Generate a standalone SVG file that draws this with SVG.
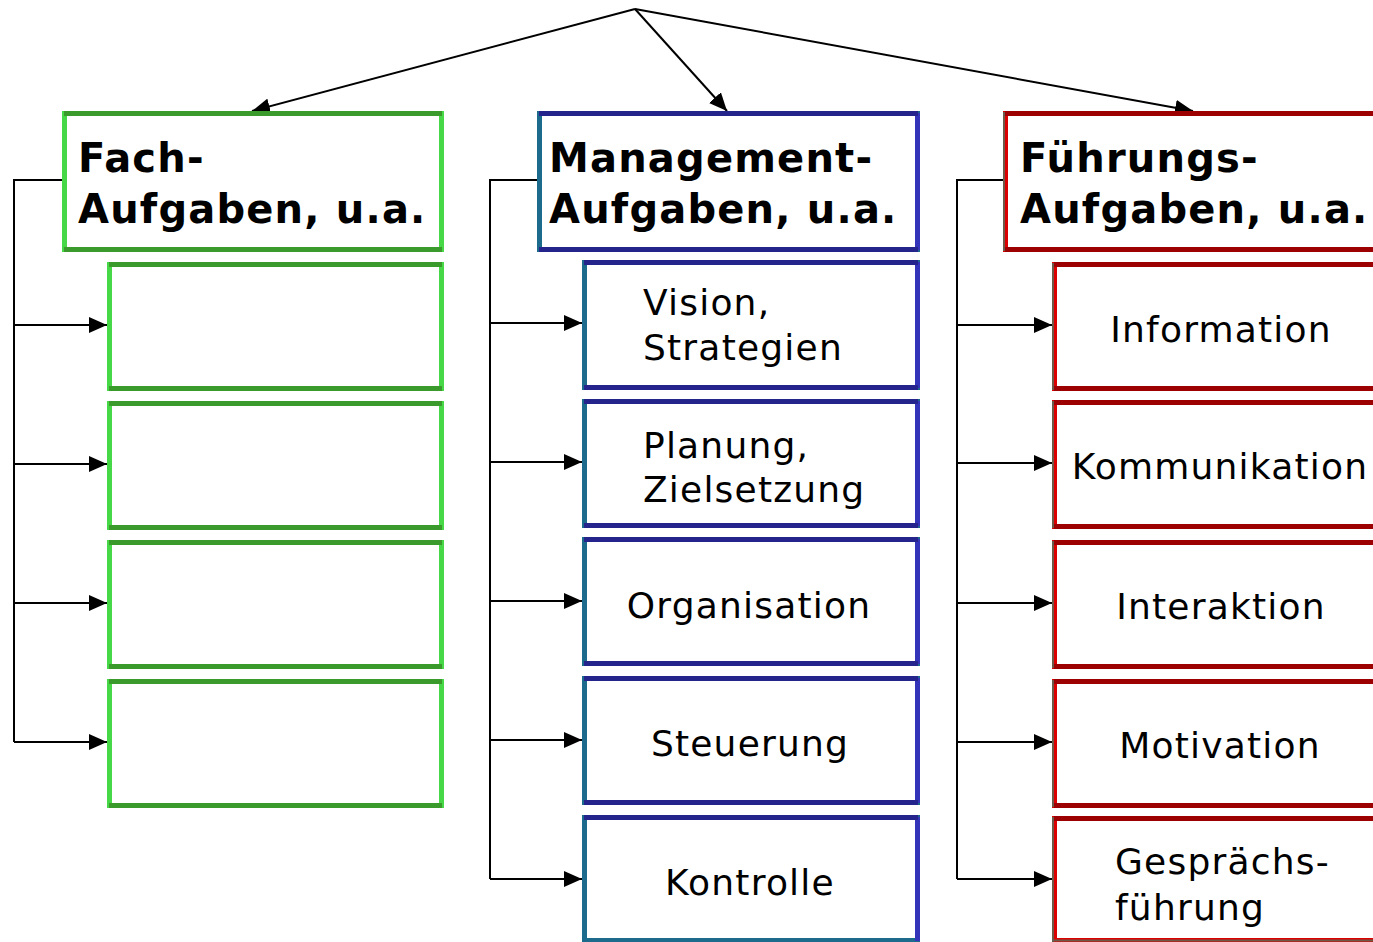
<svg xmlns="http://www.w3.org/2000/svg" width="1373" height="942" viewBox="0 0 1373 942">
<defs>
<style>
.gs{fill:#fff;stroke:#46d846;stroke-width:5}
.gt{stroke:#3a9a2c;stroke-width:5}
.bs{fill:#fff;stroke:#1c6a8c;stroke-width:5}
.br{stroke:#3434ba;stroke-width:5}
.bt{stroke:#24248c;stroke-width:5}
.rs{fill:#fff;stroke:#dd0000;stroke-width:5}
.rl{stroke:#6e5a48;stroke-width:2}
.rt{stroke:#9c0000;stroke-width:5}
.h{font-family:"DejaVu Sans",Verdana,sans-serif;font-weight:bold;font-size:40px;letter-spacing:1.2px;fill:#000}
.t{font-family:"DejaVu Sans",Verdana,sans-serif;font-size:36px;letter-spacing:1.2px;fill:#000}
.c{text-anchor:middle}
.con{fill:none;stroke:#000;stroke-width:2}
</style>
<marker id="ah2" viewBox="0 0 10 10" refX="10" refY="5" markerWidth="18" markerHeight="16" markerUnits="userSpaceOnUse" orient="auto" preserveAspectRatio="none">
<path d="M0,0 L10,5 L0,10 Z" fill="#000"/>
</marker>
</defs>
<rect width="1373" height="942" fill="#fff"/>

<g id="connectors">
<path class="con" marker-end="url(#ah2)" d="M635,9 L252,111"/>
<path class="con" marker-end="url(#ah2)" d="M635,9 L727,111"/>
<path class="con" marker-end="url(#ah2)" d="M635,9 L1193,111"/>
<path class="con" d="M62,180 H14 V742"/>
<path class="con" marker-end="url(#ah2)" d="M14,325 H107"/>
<path class="con" marker-end="url(#ah2)" d="M14,464 H107"/>
<path class="con" marker-end="url(#ah2)" d="M14,603 H107"/>
<path class="con" marker-end="url(#ah2)" d="M14,742 H107"/>
<path class="con" d="M537,180 H490 V879"/>
<path class="con" marker-end="url(#ah2)" d="M490,323 H582"/>
<path class="con" marker-end="url(#ah2)" d="M490,462 H582"/>
<path class="con" marker-end="url(#ah2)" d="M490,601 H582"/>
<path class="con" marker-end="url(#ah2)" d="M490,740 H582"/>
<path class="con" marker-end="url(#ah2)" d="M490,879 H582"/>
<path class="con" d="M1003,180 H957 V879"/>
<path class="con" marker-end="url(#ah2)" d="M957,325 H1052"/>
<path class="con" marker-end="url(#ah2)" d="M957,463 H1052"/>
<path class="con" marker-end="url(#ah2)" d="M957,603 H1052"/>
<path class="con" marker-end="url(#ah2)" d="M957,742 H1052"/>
<path class="con" marker-end="url(#ah2)" d="M957,879 H1052"/>
</g>

<!-- Fach column -->
<g id="fach">
<rect class="gs" x="64.5" y="113.5" width="377" height="136"/>
<line class="gt" x1="64" y1="113.5" x2="442" y2="113.5"/>
<line class="gt" x1="64" y1="249.5" x2="442" y2="249.5"/>
<text class="h" x="78" y="172">Fach-</text>
<text class="h" x="78" y="223">Aufgaben, u.a.</text>
</g>
<g id="fach1">
<rect class="gs" x="109.5" y="264.5" width="332" height="124"/>
<line class="gt" x1="109" y1="264.5" x2="442" y2="264.5"/>
<line class="gt" x1="109" y1="388.5" x2="442" y2="388.5"/>
</g>
<g id="fach2">
<rect class="gs" x="109.5" y="403.5" width="332" height="124"/>
<line class="gt" x1="109" y1="403.5" x2="442" y2="403.5"/>
<line class="gt" x1="109" y1="527.5" x2="442" y2="527.5"/>
</g>
<g id="fach3">
<rect class="gs" x="109.5" y="542.5" width="332" height="124"/>
<line class="gt" x1="109" y1="542.5" x2="442" y2="542.5"/>
<line class="gt" x1="109" y1="666.5" x2="442" y2="666.5"/>
</g>
<g id="fach4">
<rect class="gs" x="109.5" y="681.5" width="332" height="124"/>
<line class="gt" x1="109" y1="681.5" x2="442" y2="681.5"/>
<line class="gt" x1="109" y1="805.5" x2="442" y2="805.5"/>
</g>

<!-- Management column -->
<g id="management">
<rect class="bs" x="539.5" y="113.5" width="378" height="136"/>
<line class="br" x1="917.5" y1="113" x2="917.5" y2="250"/>
<line class="bt" x1="539" y1="113.5" x2="918" y2="113.5"/>
<line class="bt" x1="539" y1="249.5" x2="918" y2="249.5"/>
<text class="h" x="549" y="172">Management-</text>
<text class="h" x="549" y="223">Aufgaben, u.a.</text>
</g>
<g id="vision">
<rect class="bs" x="584.5" y="262.5" width="333" height="125"/>
<line class="br" x1="917.5" y1="262" x2="917.5" y2="388"/>
<line class="bt" x1="584" y1="262.5" x2="918" y2="262.5"/>
<line class="bt" x1="584" y1="387.5" x2="918" y2="387.5"/>
<text class="t" x="643" y="315">Vision,</text>
<text class="t" x="643" y="360">Strategien</text>
</g>
<g id="planung">
<rect class="bs" x="584.5" y="401.5" width="333" height="124"/>
<line class="br" x1="917.5" y1="401" x2="917.5" y2="526"/>
<line class="bt" x1="584" y1="401.5" x2="918" y2="401.5"/>
<line class="bt" x1="584" y1="525.5" x2="918" y2="525.5"/>
<text class="t" x="643" y="458">Planung,</text>
<text class="t" x="643" y="502">Zielsetzung</text>
</g>
<g id="organisation">
<rect class="bs" x="584.5" y="539.5" width="333" height="124"/>
<line class="br" x1="917.5" y1="539" x2="917.5" y2="664"/>
<line class="bt" x1="584" y1="539.5" x2="918" y2="539.5"/>
<line class="bt" x1="584" y1="663.5" x2="918" y2="663.5"/>
<text class="t c" x="749" y="618">Organisation</text>
</g>
<g id="steuerung">
<rect class="bs" x="584.5" y="678.5" width="333" height="124"/>
<line class="br" x1="917.5" y1="678" x2="917.5" y2="803"/>
<line class="bt" x1="584" y1="678.5" x2="918" y2="678.5"/>
<line class="bt" x1="584" y1="802.5" x2="918" y2="802.5"/>
<text class="t c" x="750" y="756">Steuerung</text>
</g>
<g id="kontrolle">
<rect class="bs" x="584.5" y="817.5" width="333" height="123"/>
<line class="br" x1="917.5" y1="817" x2="917.5" y2="941"/>
<line class="bt" x1="584" y1="817.5" x2="918" y2="817.5"/>
<text class="t c" x="750" y="895">Kontrolle</text>
</g>

<!-- Führung column -->
<g id="fuehrung">
<rect class="rs" x="1005.5" y="113.5" width="380" height="136"/>
<line class="rl" x1="1004" y1="112" x2="1004" y2="251"/>
<line class="rt" x1="1005" y1="113.5" x2="1380" y2="113.5"/>
<line class="rt" x1="1005" y1="249.5" x2="1380" y2="249.5"/>
<text class="h" x="1020" y="172">Führungs-</text>
<text class="h" x="1020" y="223">Aufgaben, u.a.</text>
</g>
<g id="information">
<rect class="rs" x="1054.5" y="264.5" width="330" height="124"/>
<line class="rl" x1="1053" y1="263" x2="1053" y2="390"/>
<line class="rt" x1="1054" y1="264.5" x2="1380" y2="264.5"/>
<line class="rt" x1="1054" y1="388.5" x2="1380" y2="388.5"/>
<text class="t c" x="1221" y="342">Information</text>
</g>
<g id="kommunikation">
<rect class="rs" x="1054.5" y="402.5" width="330" height="124"/>
<line class="rl" x1="1053" y1="401" x2="1053" y2="528"/>
<line class="rt" x1="1054" y1="402.5" x2="1380" y2="402.5"/>
<line class="rt" x1="1054" y1="526.5" x2="1380" y2="526.5"/>
<text class="t c" x="1220" y="479">Kommunikation</text>
</g>
<g id="interaktion">
<rect class="rs" x="1054.5" y="542.5" width="330" height="124"/>
<line class="rl" x1="1053" y1="541" x2="1053" y2="668"/>
<line class="rt" x1="1054" y1="542.5" x2="1380" y2="542.5"/>
<line class="rt" x1="1054" y1="666.5" x2="1380" y2="666.5"/>
<text class="t c" x="1221" y="619">Interaktion</text>
</g>
<g id="motivation">
<rect class="rs" x="1054.5" y="681.5" width="330" height="124"/>
<line class="rl" x1="1053" y1="680" x2="1053" y2="807"/>
<line class="rt" x1="1054" y1="681.5" x2="1380" y2="681.5"/>
<line class="rt" x1="1054" y1="805.5" x2="1380" y2="805.5"/>
<text class="t c" x="1220" y="758">Motivation</text>
</g>
<g id="gespraech">
<rect class="rs" x="1054.5" y="818.5" width="330" height="122"/>
<line class="rl" x1="1053" y1="817" x2="1053" y2="942"/>
<line class="rt" x1="1054" y1="818.5" x2="1380" y2="818.5"/>
<line class="rl" x1="1054" y1="940.5" x2="1380" y2="940.5"/>
<text class="t" x="1115" y="874">Gesprächs-</text>
<text class="t" x="1115" y="920">führung</text>
</g>
</svg>
